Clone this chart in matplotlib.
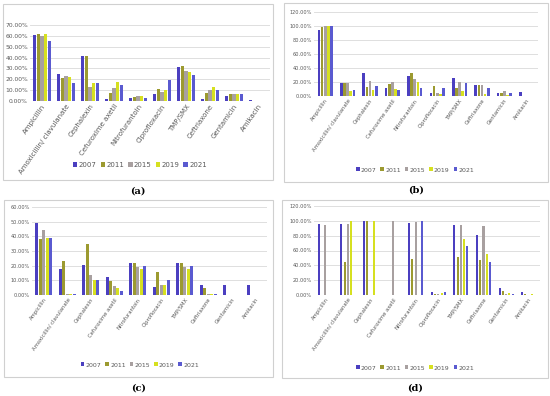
import matplotlib
matplotlib.use("Agg")
import matplotlib.pyplot as plt
import numpy as np
from matplotlib.patches import Rectangle, Patch

W, H = 550, 396
categories = ["Ampicillin", "Amoxicillin/ clavulanate", "Cephalexin", "Cefuroxime axetil",
              "Nitrofurantoin", "Ciprofloxacin", "TMP/SMX", "Ceftriaxone", "Gentamicin", "Amikacin"]
years = ["2007", "2011", "2015", "2019", "2021"]

# values (%) per year, panel (a)
a_2007 = [61, 25, 41, 1.5, 3, 6.5, 31, 2, 5, 1]
a_2011 = [61.5, 21, 41, 7, 4, 11.5, 32, 7.5, 6.5, 0]
a_2015 = [60, 23, 12.5, 12, 4.5, 8, 28, 10, 6.5, 0]
a_2019 = [61.5, 22, 17, 17.5, 4.5, 10.5, 27, 13, 6.5, 0]
a_2021 = [55.5, 17, 16.5, 15, 2.5, 19, 24, 10.5, 6.5, 0]
# panel (b)
b_2007 = [94, 19, 33, 12, 28, 5, 26, 16, 5, 6]
b_2011 = [98, 18, 13, 17, 33, 15, 12, 16, 5, 0]
b_2015 = [100, 19, 22, 20, 25, 5, 20, 16, 7, 0]
b_2019 = [100, 7, 8, 10, 20, 3, 7, 3, 2, 0]
b_2021 = [100, 9, 15, 8, 12, 11, 19, 11, 5, 0]
# panel (c)
c_2007 = [49, 18, 20.5, 12.5, 22, 5.5, 22, 7, 7, 7]
c_2011 = [38, 23.5, 34.5, 9.5, 22, 16, 22, 4.5, 0, 0]
c_2015 = [44.5, 0.5, 13.5, 6, 19, 7, 19, 1, 0, 0]
c_2019 = [39, 1, 10, 4.5, 18, 7, 18, 1, 0, 0]
c_2021 = [39, 1, 10, 2.5, 20, 10, 20, 1, 0, 0]
# panel (d)
d_2007 = [96, 96, 100, 0, 97, 4, 95, 81, 10, 4]
d_2011 = [0, 45, 100, 0, 48, 2, 51, 47, 6, 2]
d_2015 = [95, 96, 0, 100, 98, 1, 95, 93, 1, 0]
d_2019 = [0, 100, 100, 0, 0, 3, 75, 55, 3, 2]
d_2021 = [0, 0, 0, 0, 100, 4, 66, 44, 1, 0]

colors = ["#4b3fc0", "#9c9a30", "#a8a0a0", "#d6e020", "#5a5ad0"]

fig = plt.figure(figsize=(W / 100, H / 100), dpi=100)

def px_axes(l, t, r, b):
    return fig.add_axes([l / W, 1 - b / H, (r - l) / W, (b - t) / H])

def box(l, t, r, b):
    fig.patches.append(Rectangle((l / W, 1 - b / H), (r - l) / W, (b - t) / H,
                                 transform=fig.transFigure, fill=False,
                                 edgecolor="#d0d0d0", lw=0.8))

def panel(rect, data, ymax, ystep, barw, gap, catfs, tickfs, legy, legx, legfs, label, laby, boxr):
    box(*boxr)
    ax = px_axes(*rect)
    x = np.arange(len(categories))
    n = len(data)
    for i, vals in enumerate(data):
        off = (i - (n - 1) / 2) * (barw + gap)
        ax.bar(x + off, vals, width=barw, color=colors[i], zorder=3)
    ax.set_xlim(-0.5, len(categories) - 0.5)
    ax.set_ylim(0, ymax)
    ticks = np.arange(0, ymax + 0.001, ystep)
    ax.set_yticks(ticks)
    ax.set_yticklabels([f"{t:.2f}%" for t in ticks], fontsize=tickfs, color="#595959")
    ax.yaxis.grid(True, color="#d9d9d9", lw=0.6, zorder=0)
    ax.set_xticks(x)
    ax.set_xticklabels(categories, rotation=55, ha="right", rotation_mode="anchor",
                       fontsize=catfs, color="#595959")
    ax.tick_params(length=0, pad=1.5)
    for s in ax.spines.values():
        s.set_visible(False)
    ax.axhline(0, color="#d9d9d9", lw=0.7, zorder=2)
    handles = [Patch(facecolor=c, label=y) for c, y in zip(colors, years)]
    fig.legend(handles=handles, loc="center", bbox_to_anchor=(legx / W, 1 - legy / H),
               ncol=5, frameon=False, fontsize=legfs, handlelength=0.6, handleheight=0.6,
               handletextpad=0.2, columnspacing=0.6, labelcolor="#595959")
    fig.text(rect[0] / 2 + rect[2] / 2 if False else (boxr[0] + boxr[2]) / 2 / W, 1 - laby / H, label,
             ha="center", va="center", fontsize=7, fontweight="bold", family="DejaVu Serif")
    return ax

panel((30, 25, 270, 101), [a_2007, a_2011, a_2015, a_2019, a_2021], 70, 10, 0.13, 0.02,
      5.0, 4.3, 165, 140, 5.0, "(a)", 191, (3, 4, 273, 180))
panel((314, 12, 538, 96), [b_2007, b_2011, b_2015, b_2019, b_2021], 120, 20, 0.12, 0.02,
      3.8, 3.6, 170, 415, 4.5, "(b)", 190, (284, 3, 548, 182))
panel((32, 207, 267, 295), [c_2007, c_2011, c_2015, c_2019, c_2021], 60, 10, 0.12, 0.03,
      3.8, 3.6, 365, 140, 4.5, "(c)", 388, (4, 200, 273, 377))
panel((314, 206, 540, 295), [d_2007, d_2011, d_2015, d_2019, d_2021], 120, 20, 0.09, 0.055,
      3.8, 3.6, 368, 415, 4.5, "(d)", 388, (282, 200, 548, 378))

fig.savefig("out.png", dpi=100)
